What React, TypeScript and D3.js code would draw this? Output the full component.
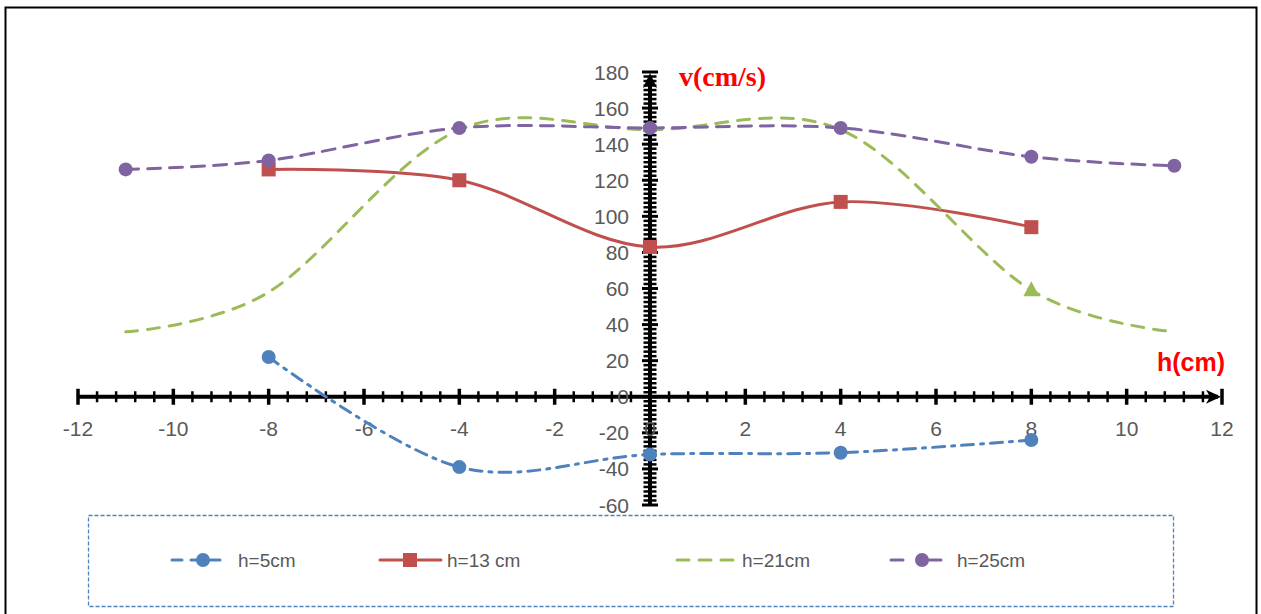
import React from "react";
import * as d3 from "d3";

const xTicks = [-12, -10, -8, -6, -4, -2, 0, 2, 4, 6, 8, 10, 12];
const yTicks = [-60, -40, -20, 0, 20, 40, 60, 80, 100, 120, 140, 160, 180];

const h5X = [-8, -4, 0, 4, 8];
const h5Y = [22, -39, -32, -31, -24];
const h13X = [-8, -4, 0, 4, 8];
const h13Y = [126, 120, 83, 108, 94];
const h21X = [-11, -8, -4, 0, 4, 8, 11];
const h21Y = [36, 58, 148, 148, 148, 59, 36];
const h25X = [-11, -8, -4, 0, 4, 8, 11];
const h25Y = [126, 131, 149, 149, 149, 133, 128];

const legendNames = ["h=5cm", "h=13 cm", "h=21cm", "h=25cm"];

const W = 1261;
const H = 614;

export default function App() {
  const x = d3.scaleLinear().domain([-12, 12]).range([78, 1222]);
  const y = d3.scaleLinear().domain([-60, 180]).range([505, 72]);
  const x0 = x(0);
  const y0 = y(0);

  const line = d3
    .line<[number, number]>()
    .x((d) => x(d[0]))
    .y((d) => y(d[1]))
    .curve(d3.curveCardinal.tension(0));

  const pts = (xs: number[], ys: number[]) => xs.map((v, i) => [v, ys[i]] as [number, number]);

  const xMinor = d3.range(-12, 12.001, 0.4);
  const yMinor = d3.range(-60, 180.001, 2.5);

  const tickColor = "#000";
  const labelColor = "#595959";
  const font = "'Liberation Sans', Arial, sans-serif";

  const series = [
    { name: legendNames[0], data: pts(h5X, h5Y), color: "#4F81BD", dash: "12 7 3 7", marker: "circle" },
    { name: legendNames[1], data: pts(h13X, h13Y), color: "#C0504D", dash: "", marker: "square" },
    { name: legendNames[2], data: pts(h21X, h21Y), color: "#9BBB59", dash: "12 10", marker: "none" },
    { name: legendNames[3], data: pts(h25X, h25Y), color: "#8064A2", dash: "13 9", marker: "circle" },
  ];

  const legendItems = [
    { lx1: 172, lx2: 223, mx: 203, tx: 238, dash: "10 9" },
    { lx1: 380, lx2: 441, mx: 410, tx: 447, dash: "" },
    { lx1: 677, lx2: 736, mx: 0, tx: 742, dash: "12 10" },
    { lx1: 891, lx2: 952, mx: 922, tx: 957, dash: "12 26" },
  ];
  const ly = 560;

  const isMajorX = (v: number) => Math.abs(v / 2 - Math.round(v / 2)) < 1e-6;
  const isMajorY = (v: number) => Math.abs(v / 20 - Math.round(v / 20)) < 1e-6;

  return (
    <svg
      width={W}
      height={H}
      style={{ position: "absolute", left: 0, top: 0, background: "#fff" }}
      fontFamily={font}
    >
      <rect x={0} y={0} width={W} height={H} fill="#fff" />
      {/* frame */}
      <rect x={5.5} y={7.5} width={1251} height={620} fill="none" stroke="#000" strokeWidth={2} />

      {/* x axis */}
      <line x1={x(-12)} x2={x(12) - 4} y1={y0} y2={y0} stroke={tickColor} strokeWidth={4} />
      {xMinor.map((v, i) => {
        const major = isMajorX(v);
        const hl = major ? 8 : 5.5;
        return (
          <line
            key={"xt" + i}
            x1={x(v)}
            x2={x(v)}
            y1={y0 - hl}
            y2={y0 + hl}
            stroke={tickColor}
            strokeWidth={major ? 3.5 : 2.5}
          />
        );
      })}
      <path
        d={`M${x(12) - 1},${y0} L${x(12) - 16},${y0 - 7} L${x(12) - 12},${y0} L${x(12) - 16},${y0 + 7} Z`}
        fill="#000"
      />

      {/* y axis */}
      <line x1={x0} x2={x0} y1={y(-60)} y2={y(180) + 4} stroke={tickColor} strokeWidth={4} />
      {yMinor.map((v, i) => {
        const major = isMajorY(v);
        const hl = major ? 8 : 6.5;
        return (
          <line
            key={"yt" + i}
            x1={x0 - hl}
            x2={x0 + hl}
            y1={y(v)}
            y2={y(v)}
            stroke={tickColor}
            strokeWidth={major ? 3 : 2.5}
          />
        );
      })}
      <path
        d={`M${x0},${y(180) + 1} L${x0 - 7},${y(180) + 16} L${x0},${y(180) + 12} L${x0 + 7},${y(180) + 16} Z`}
        fill="#000"
      />

      {/* tick labels */}
      {xTicks.map((v) => (
        <text
          key={"xl" + v}
          x={x(v)}
          y={y0 + 39}
          textAnchor="middle"
          fontSize={21}
          fill={labelColor}
        >
          {v}
        </text>
      ))}
      {yTicks.map((v) => (
        <text
          key={"yl" + v}
          x={629}
          y={y(v) + 7.5}
          textAnchor="end"
          fontSize={21}
          fill={labelColor}
        >
          {v}
        </text>
      ))}

      {/* axis titles */}
      <text
        x={679}
        y={86}
        fontFamily="'Liberation Serif', 'Times New Roman', serif"
        fontWeight="bold"
        fontSize={28}
        fill="#FF0000"
      >
        v(cm/s)
      </text>
      <text x={1157} y={371} fontWeight="bold" fontSize={25} fill="#FF0000">
        h(cm)
      </text>

      {/* series */}
      {series.map((s) => (
        <path
          key={"l" + s.name}
          d={line(s.data) || ""}
          fill="none"
          stroke={s.color}
          strokeWidth={3}
          strokeDasharray={s.dash || undefined}
          strokeLinecap="round"
        />
      ))}
      {series.map((s) =>
        s.data.map((d, i) =>
          s.marker === "circle" ? (
            <circle key={s.name + i} cx={x(d[0])} cy={y(d[1])} r={7} fill={s.color} />
          ) : s.marker === "square" ? (
            <rect
              key={s.name + i}
              x={x(d[0]) - 7}
              y={y(d[1]) - 7}
              width={14}
              height={14}
              fill={s.color}
            />
          ) : null
        )
      )}
      {/* single triangle marker on h=21cm at x=8 */}
      {(() => {
        const px = x(h21X[5]);
        const py = y(h21Y[5]);
        return (
          <path
            d={`M${px},${py - 9} L${px + 8},${py + 6} L${px - 8},${py + 6} Z`}
            fill="#9BBB59"
          />
        );
      })()}

      {/* legend */}
      <rect
        x={88.5}
        y={515.5}
        width={1085}
        height={91}
        fill="none"
        stroke="#4F81BD"
        strokeWidth={1.3}
        strokeDasharray="4 2"
      />
      {series.map((s, i) => {
        const it = legendItems[i];
        return (
          <g key={"lg" + i}>
            <line
              x1={it.lx1}
              x2={it.lx2}
              y1={ly}
              y2={ly}
              stroke={s.color}
              strokeWidth={3}
              strokeLinecap="round"
              strokeDasharray={it.dash || undefined}
            />
            {s.marker === "circle" && <circle cx={it.mx} cy={ly} r={7} fill={s.color} />}
            {s.marker === "square" && (
              <rect x={it.mx - 7} y={ly - 7} width={14} height={14} fill={s.color} />
            )}
            <text x={it.tx} y={ly + 7} fontSize={19} fill={labelColor}>
              {s.name}
            </text>
          </g>
        );
      })}
    </svg>
  );
}
